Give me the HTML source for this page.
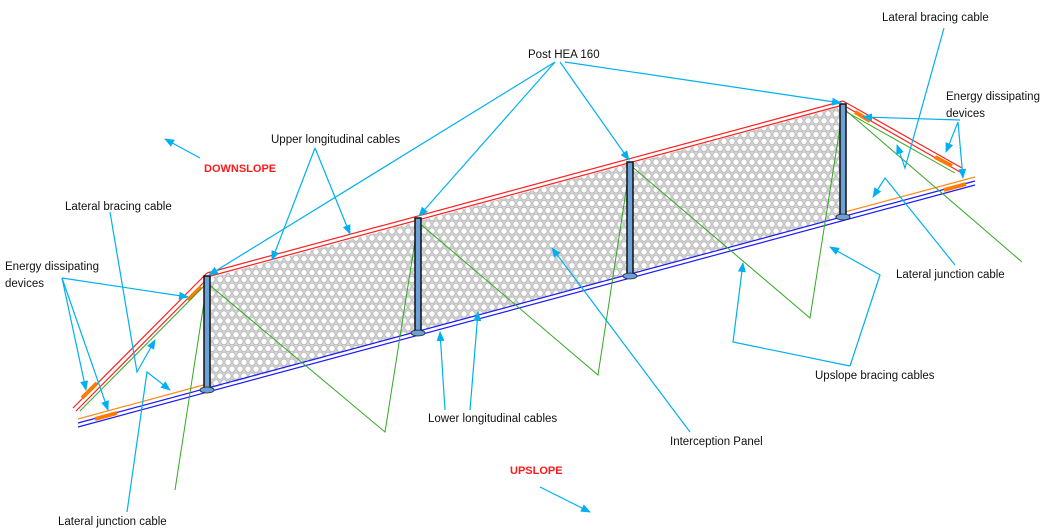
<!DOCTYPE html>
<html><head><meta charset="utf-8"><style>
html,body{margin:0;padding:0;background:#fff;}
svg{display:block;font-family:"Liberation Sans",Arial,sans-serif;}
</style></head><body>
<svg width="1043" height="532" viewBox="0 0 1043 532" xmlns="http://www.w3.org/2000/svg">
<defs>
<pattern id="hex" width="8" height="13.8" patternUnits="userSpaceOnUse">
<rect width="8" height="13.8" fill="#d8d8d8"/>
<circle cx="4" cy="3.45" r="3.2" fill="#fff" stroke="#b0b0b0" stroke-width="0.8"/>
<circle cx="0" cy="10.35" r="3.2" fill="#fff" stroke="#b0b0b0" stroke-width="0.8"/>
<circle cx="8" cy="10.35" r="3.2" fill="#fff" stroke="#b0b0b0" stroke-width="0.8"/>
</pattern>
<marker id="ar" markerWidth="10" markerHeight="8" refX="9" refY="4" orient="auto" markerUnits="userSpaceOnUse">
<path d="M0,0 L10,4 L0,8 Z" fill="#00b0f0"/></marker>
</defs>

<polygon points="209,278 843,106 843,216 209,389" fill="url(#hex)"/>

<g fill="none" stroke-width="1.2">
<line x1="78" y1="423" x2="975" y2="181" stroke="#1a1aff"/>
<line x1="78" y1="427" x2="975" y2="185" stroke="#1a1aff"/>
<line x1="78" y1="419" x2="207" y2="384" stroke="#ff8c1a"/>
<line x1="845" y1="212" x2="975" y2="177" stroke="#ff8c1a"/>
<line x1="207" y1="273" x2="843" y2="101" stroke="#ff2020"/>
<line x1="207" y1="277" x2="843" y2="105" stroke="#ff2020"/>
<line x1="207" y1="273" x2="73" y2="408" stroke="#ff2020"/>
<line x1="210" y1="276" x2="76" y2="411" stroke="#ff2020"/>
<line x1="843" y1="101" x2="962" y2="168" stroke="#ff2020"/>
<line x1="843" y1="105" x2="960" y2="172" stroke="#ff2020"/>
</g>
<g stroke="#ff7a00" stroke-width="4" stroke-linecap="butt">
<line x1="82" y1="398" x2="97" y2="383"/>
<line x1="95" y1="419" x2="117" y2="413"/>
<line x1="188" y1="300" x2="201" y2="287"/>
<line x1="935" y1="157" x2="952" y2="166"/>
<line x1="944" y1="190" x2="966" y2="184"/>
<line x1="855" y1="112" x2="870" y2="121"/>
</g>
<line x1="210" y1="286" x2="210" y2="385" stroke="#ff7a00" stroke-width="1.2"/>

<g fill="none" stroke="#33aa22" stroke-width="1">
<polyline points="80,411 207,283"/>
<polyline points="175,490 207,283 385,432 418,222 598,375 630,165 810,318 843,108 1022,262"/>
<polyline points="843,110 955,173"/>
</g>

<g>
<rect x="204" y="276" width="6" height="113" fill="#6ca0d8" stroke="#111" stroke-width="1.5"/>
<rect x="415" y="218" width="6" height="114" fill="#6ca0d8" stroke="#111" stroke-width="1.5"/>
<rect x="627" y="162" width="6" height="113" fill="#6ca0d8" stroke="#111" stroke-width="1.5"/>
<rect x="840" y="104" width="6" height="112" fill="#6ca0d8" stroke="#111" stroke-width="1.5"/>
<ellipse cx="207" cy="390" rx="7" ry="3" fill="#6ca0d8" stroke="#222" stroke-width="0.8"/>
<ellipse cx="418" cy="333" rx="7" ry="3" fill="#6ca0d8" stroke="#222" stroke-width="0.8"/>
<ellipse cx="630" cy="276" rx="7" ry="3" fill="#6ca0d8" stroke="#222" stroke-width="0.8"/>
<ellipse cx="843" cy="217" rx="7" ry="3" fill="#6ca0d8" stroke="#222" stroke-width="0.8"/>
</g>

<g fill="none" stroke="#00b0f0" stroke-width="1.2">
<line x1="555" y1="62" x2="209" y2="275" marker-end="url(#ar)"/>
<line x1="555" y1="62" x2="419" y2="216" marker-end="url(#ar)"/>
<line x1="560" y1="62" x2="629" y2="160" marker-end="url(#ar)"/>
<line x1="565" y1="62" x2="841" y2="103" marker-end="url(#ar)"/>
<line x1="315" y1="148" x2="272" y2="260" marker-end="url(#ar)"/>
<line x1="315" y1="148" x2="350" y2="234" marker-end="url(#ar)"/>
<line x1="200" y1="158" x2="165" y2="139" marker-end="url(#ar)"/>
<polyline points="110,212 137,372 155,340" marker-end="url(#ar)"/>
<line x1="62" y1="278" x2="188" y2="297" marker-end="url(#ar)"/>
<line x1="62" y1="278" x2="86" y2="390" marker-end="url(#ar)"/>
<line x1="62" y1="278" x2="108" y2="410" marker-end="url(#ar)"/>
<polyline points="127,512 147,372 170,390" marker-end="url(#ar)"/>
<line x1="445" y1="410" x2="440" y2="332" marker-end="url(#ar)"/>
<line x1="470" y1="410" x2="478" y2="312" marker-end="url(#ar)"/>
<line x1="690" y1="432" x2="552" y2="248" marker-end="url(#ar)"/>
<polyline points="850,366 733,342 743,263" marker-end="url(#ar)"/>
<polyline points="850,366 880,275 830,247" marker-end="url(#ar)"/>
<polyline points="955,265 885,178 873,197" marker-end="url(#ar)"/>
<polyline points="944,28 905,168 897,145" marker-end="url(#ar)"/>
<line x1="960" y1="120" x2="863" y2="117" marker-end="url(#ar)"/>
<line x1="958" y1="122" x2="946" y2="152" marker-end="url(#ar)"/>
<line x1="958" y1="122" x2="963" y2="178" marker-end="url(#ar)"/>
<line x1="540" y1="487" x2="590" y2="512" marker-end="url(#ar)"/>
</g>

<g font-size="11.5" fill="#111">
<text x="528" y="58">Post HEA 160</text>
<text x="271" y="143">Upper longitudinal cables</text>
<text x="65" y="210">Lateral bracing cable</text>
<text x="5" y="270">Energy dissipating</text>
<text x="5" y="287">devices</text>
<text x="58" y="525">Lateral junction cable</text>
<text x="428" y="422">Lower longitudinal cables</text>
<text x="670" y="445">Interception Panel</text>
<text x="815" y="379">Upslope bracing cables</text>
<text x="896" y="278">Lateral junction cable</text>
<text x="882" y="21">Lateral bracing cable</text>
<text x="946" y="100">Energy dissipating</text>
<text x="946" y="117">devices</text>
</g>
<text x="204" y="172" font-size="11" font-weight="bold" fill="#ff1a1a">DOWNSLOPE</text>
<text x="510" y="474" font-size="11" font-weight="bold" fill="#ff1a1a">UPSLOPE</text>
</svg>
</body></html>
